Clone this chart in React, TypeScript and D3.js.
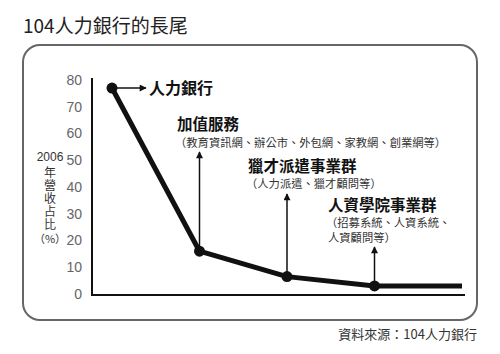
import { useEffect, useRef } from "react";
import * as d3 from "d3";

const categories = ["人力銀行", "加值服務", "獵才派遣事業群", "人資學院事業群", "長尾"];
const shares = [77, 16, 6.5, 3, 3];
const subLabels = [
  [],
  ["（教育資訊網、辦公市、外包網、家教網、創業網等）"],
  ["（人力派遣、獵才顧問等）"],
  ["（招募系統、人資系統、", "人資顧問等）"],
  [],
];
const yTicks = [0, 10, 20, 30, 40, 50, 60, 70, 80];
const yLabel = "年營收占比";

const FONT = "'Noto Sans CJK TC', 'Noto Sans', sans-serif";
const TICK_FONT = "'Liberation Sans', Arial, sans-serif";

export default function App() {
  const ref = useRef<SVGSVGElement>(null);

  useEffect(() => {
    const svg = d3.select(ref.current);
    svg.selectAll("*").remove();
    const width = 500;
    const height = 354;
    svg.attr("width", width).attr("height", height);

    svg.append("rect").attr("width", width).attr("height", height).attr("fill", "#fff");

    // arrow marker
    svg
      .append("defs")
      .append("marker")
      .attr("id", "head")
      .attr("viewBox", "0 0 10 10")
      .attr("refX", 9)
      .attr("refY", 5)
      .attr("markerWidth", 10)
      .attr("markerHeight", 7)
      .attr("markerUnits", "userSpaceOnUse")
      .attr("orient", "auto")
      .append("path")
      .attr("d", "M0,0 L10,5 L0,10 Z")
      .attr("fill", "#111");

    svg
      .append("text")
      .text("104人力銀行的長尾")
      .attr("x", 23)
      .attr("y", 33)
      .style("font-family", FONT)
      .style("font-size", "19px")
      .style("fill", "#222");

    svg
      .append("rect")
      .attr("x", 23)
      .attr("y", 45)
      .attr("width", 454)
      .attr("height", 275)
      .attr("rx", 17)
      .attr("fill", "none")
      .attr("stroke", "#666")
      .attr("stroke-width", 2);

    const x = d3.scaleLinear().domain([0, categories.length - 1]).range([112, 462]);
    const y = d3.scaleLinear().domain([0, 80]).range([294, 80]);

    const yAxis = svg
      .append("g")
      .attr("transform", "translate(92,0)")
      .call(d3.axisLeft(y).tickValues(yTicks).tickSize(0).tickPadding(10).tickFormat(d3.format("d")));
    yAxis.select(".domain").attr("stroke", "#111").attr("stroke-width", 2).attr("d", `M0,${y(80) - 2}V${y(0) + 1}`);
    yAxis
      .selectAll("text")
      .style("font-family", TICK_FONT)
      .style("font-size", "14px")
      .style("font-weight", "300")
      .style("fill", "#666");

    svg
      .append("line")
      .attr("x1", 91)
      .attr("x2", 465)
      .attr("y1", y(0) + 1)
      .attr("y2", y(0) + 1)
      .attr("stroke", "#111")
      .attr("stroke-width", 2);

    // y label: year, vertical characters, unit
    svg
      .append("text")
      .text("2006")
      .attr("x", 50)
      .attr("y", 161)
      .attr("text-anchor", "middle")
      .style("font-family", TICK_FONT)
      .style("font-size", "12px")
      .style("fill", "#333");
    svg
      .append("text")
      .text(yLabel)
      .attr("x", 50)
      .attr("y", 166)
      .attr("writing-mode", "vertical-rl")
      .style("font-family", FONT)
      .style("font-size", "12px")
      .style("letter-spacing", "1px")
      .style("fill", "#333");
    svg
      .append("text")
      .text("（%）")
      .attr("x", 50)
      .attr("y", 243)
      .attr("text-anchor", "middle")
      .style("font-family", FONT)
      .style("font-size", "11px")
      .style("fill", "#333");

    // line
    const line = d3
      .line<number>()
      .x((_, i) => x(i))
      .y((d) => y(d));
    svg
      .append("path")
      .datum(shares)
      .attr("d", line)
      .attr("fill", "none")
      .attr("stroke", "#111")
      .attr("stroke-width", 5)
      .attr("stroke-linejoin", "round");

    svg
      .selectAll("circle.pt")
      .data(shares.slice(0, 4))
      .enter()
      .append("circle")
      .attr("class", "pt")
      .attr("cx", (_, i) => x(i))
      .attr("cy", (d) => y(d))
      .attr("r", 5.5)
      .attr("fill", "#111");

    // first annotation: horizontal arrow
    svg
      .append("line")
      .attr("x1", x(0))
      .attr("x2", x(0) + 34)
      .attr("y1", y(shares[0]))
      .attr("y2", y(shares[0]))
      .attr("stroke", "#111")
      .attr("stroke-width", 1.5)
      .attr("marker-end", "url(#head)");
    svg
      .append("text")
      .text(categories[0])
      .attr("x", x(0) + 37)
      .attr("y", y(shares[0]) + 6)
      .style("font-family", FONT)
      .style("font-size", "16px")
      .style("font-weight", "700")
      .style("fill", "#111");

    // vertical arrows with labels
    const arrowTop = [0, 152, 194, 247];
    const labelX = [0, 177, 248, 328];
    const labelY = [0, 130, 172, 211];
    const subGap = [0, 17, 16, 16];
    [1, 2, 3].forEach((i) => {
      svg
        .append("line")
        .attr("x1", x(i))
        .attr("x2", x(i))
        .attr("y1", y(shares[i]))
        .attr("y2", arrowTop[i])
        .attr("stroke", "#111")
        .attr("stroke-width", 1.5)
        .attr("marker-end", "url(#head)");
      const t = svg
        .append("text")
        .style("font-family", FONT)
        .style("fill", "#111");
      t.append("tspan")
        .text(categories[i])
        .attr("x", labelX[i])
        .attr("y", labelY[i])
        .style("font-size", "15.5px")
        .style("font-weight", "700");
      subLabels[i].forEach((s, j) => {
        t.append("tspan")
          .text(s)
          .attr("x", labelX[i] + (j === 0 ? -2 : 0))
          .attr("y", labelY[i] + subGap[i] + j * 15)
          .style("font-size", "11.3px")
          .style("font-weight", "400")
          .style("fill", "#333");
      });
    });

    svg
      .append("text")
      .text("資料來源：104人力銀行")
      .attr("x", 477)
      .attr("y", 339)
      .attr("text-anchor", "end")
      .style("font-family", FONT)
      .style("font-size", "13px")
      .style("fill", "#333");
  }, []);

  return <svg ref={ref} style={{ position: "absolute", left: 0, top: 0, display: "block" }}></svg>;
}
